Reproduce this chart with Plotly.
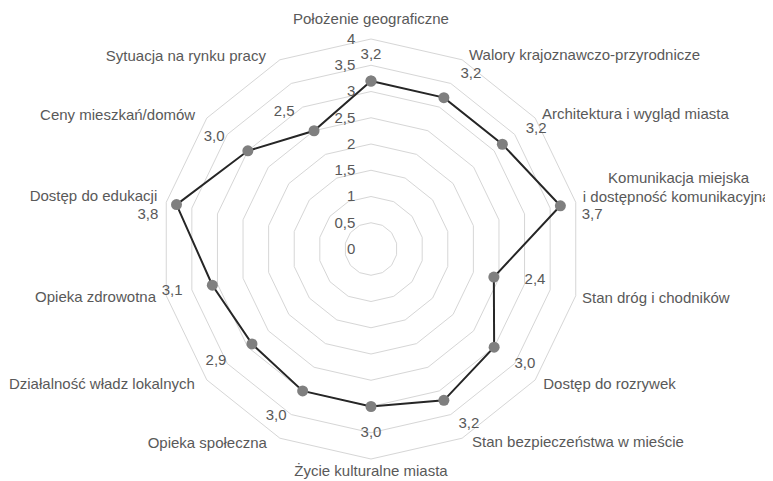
import plotly.graph_objects as go

categories = [
    "Położenie geograficzne",
    "Walory krajoznawczo-przyrodnicze",
    "Architektura i wygląd miasta",
    "Komunikacja miejska\ni dostępność komunikacyjna",
    "Stan dróg i chodników",
    "Dostęp do rozrywek",
    "Stan bezpieczeństwa w mieście",
    "Życie kulturalne miasta",
    "Opieka społeczna",
    "Działalność władz lokalnych",
    "Opieka zdrowotna",
    "Dostęp do edukacji",
    "Ceny mieszkań/domów",
    "Sytuacja na rynku pracy",
]
values = [3.2, 3.2, 3.2, 3.7, 2.4, 3.0, 3.2, 3.0, 3.0, 2.9, 3.1, 3.8, 3.0, 2.5]
radial_ticks = [0, 0.5, 1, 1.5, 2, 2.5, 3, 3.5, 4]
radial_tick_labels = ["0", "0,5", "1", "1,5", "2", "2,5", "3", "3,5", "4"]

# ---- layout-only placement of text (polar radius in axis units, angle in degrees) ----
# value labels (centred)
val_lbl_r = [3.70, 3.84, 3.89, 4.26, 3.18, 3.66, 3.82, 3.50, 3.66, 3.64, 3.87, 4.30, 3.67, 3.09]
val_lbl_th = [0, 29.7, 54.0, 81.3, 100.7, 126.8, 150.8, 180, 209.6, 234.2, 258.1, 278.7, 305.5, 327.6]
# category labels: one entry per text line -> (r, angle, textposition, indent)
cat_lbl = [
    [(4.22, 0.0, "top center", 0)],
    [(4.11, 27.0, "middle right", 0)],
    [(4.14, 51.9, "middle right", 0)],
    [(4.25, 71.9, "middle right", 6), (4.15, 76.5, "middle right", 0)],
    [(4.13, 103.3, "middle right", 0)],
    [(4.18, 128.3, "middle right", 0)],
    [(4.17, 152.5, "middle right", 0)],
    [(4.10, 180.0, "bottom center", 0)],
    [(4.21, 208.1, "middle left", 0)],
    [(4.24, 232.3, "middle left", 0)],
    [(4.20, 257.2, "middle left", 0)],
    [(4.19, 283.7, "middle left", 0)],
    [(4.20, 307.1, "middle left", 0)],
    [(4.17, 331.3, "middle left", 0)],
]

value_text = [f"{v:.1f}".replace(".", ",") for v in values]

c_r, c_th, c_txt, c_pos = [], [], [], []
for name, spec in zip(categories, cat_lbl):
    for line, (rr, th, pos, ind) in zip(name.split("\n"), spec):
        c_r.append(rr)
        c_th.append(th)
        c_txt.append("\u00a0" * ind + line)
        c_pos.append(pos)

TXT = "#595959"
GRID = "#d6d6d6"
FONT = "Liberation Sans, Arial, sans-serif"
FS = 15

W, H = 773, 481
OFF = 8  # page body margin
CX, CY, R = 371 - OFF, 249 - OFF, 210  # centre and outer radius in pixels
K = 4.4 / 4.0  # text subplot radial range relative to main one


def domain(rad):
    return dict(x=[(CX - rad) / W, (CX + rad) / W],
                y=[(H - CY - rad) / H, (H - CY + rad) / H])


fig = go.Figure()
fig.add_trace(go.Scatterpolar(
    r=values + values[:1],
    theta=categories + categories[:1],
    mode="lines+markers",
    line=dict(color="#262626", width=2),
    marker=dict(color="#7f7f7f", size=11),
    subplot="polar",
    showlegend=False,
    hoverinfo="skip",
))
fig.add_trace(go.Scatterpolar(
    r=val_lbl_r,
    theta=val_lbl_th,
    thetaunit="degrees",
    mode="text",
    text=value_text,
    textposition="middle center",
    textfont=dict(color=TXT, size=FS, family=FONT),
    cliponaxis=False,
    subplot="polar2",
    showlegend=False,
    hoverinfo="skip",
))
fig.add_trace(go.Scatterpolar(
    r=c_r,
    theta=c_th,
    thetaunit="degrees",
    mode="text",
    text=c_txt,
    textposition=c_pos,
    textfont=dict(color=TXT, size=FS, family=FONT),
    cliponaxis=False,
    subplot="polar2",
    showlegend=False,
    hoverinfo="skip",
))

fig.update_layout(
    width=W, height=H,
    margin=dict(l=0, r=0, t=0, b=0),
    paper_bgcolor="white",
    font=dict(family=FONT, size=FS, color=TXT),
    polar=dict(
        domain=domain(R),
        bgcolor="white",
        gridshape="linear",
        angularaxis=dict(
            direction="clockwise", rotation=90,
            showgrid=False, showline=True, linecolor=GRID, linewidth=1,
            ticks="", showticklabels=False,
        ),
        radialaxis=dict(
            range=[0, 4], angle=90, side="counterclockwise", tickangle=90,
            tickmode="array", tickvals=radial_ticks, ticktext=radial_tick_labels,
            showgrid=True, gridcolor=GRID, gridwidth=1,
            showline=False, ticks="outside", ticklen=10, tickcolor="rgba(0,0,0,0)",
            tickfont=dict(size=FS, color=TXT, family=FONT),
        ),
    ),
    polar2=dict(
        domain=domain(R * K),
        bgcolor="rgba(0,0,0,0)",
        angularaxis=dict(direction="clockwise", rotation=90, visible=False,
                         showgrid=False, showline=False, showticklabels=False),
        radialaxis=dict(range=[0, 4 * K], visible=False, showgrid=False,
                        showline=False, showticklabels=False),
    ),
)
fig.write_html("out.html")
